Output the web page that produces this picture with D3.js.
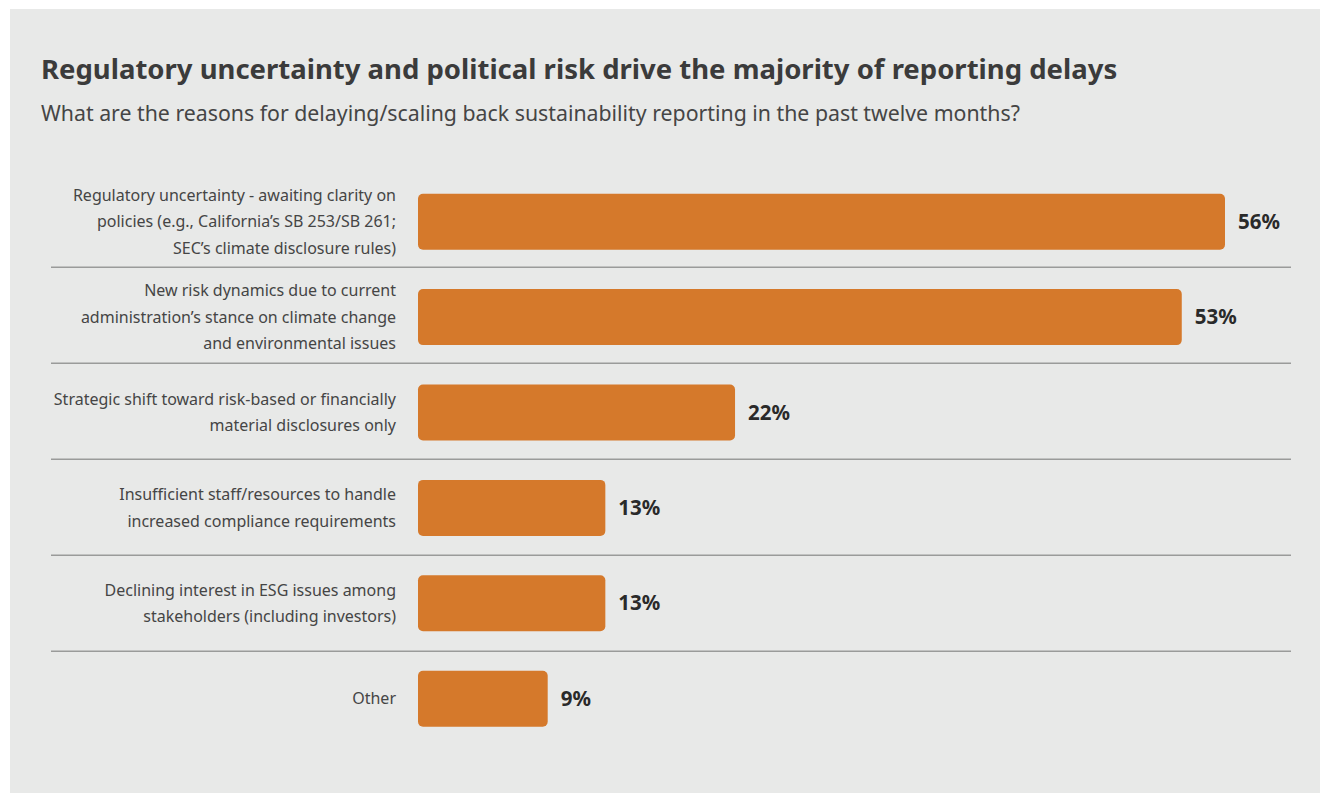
<!DOCTYPE html>
<html>
<head>
<meta charset="utf-8">
<script src="https://cdn.jsdelivr.net/npm/d3@7"></script>
<style>
  html, body { margin: 0; padding: 0; background: #ffffff; }
  svg { display: block; }
</style>
</head>
<body>
<svg id="chart" width="1321" height="793"></svg>
<script>
// Survey answers, one row per reason (line breaks as printed)
const categories = [
  "Regulatory uncertainty - awaiting clarity on\npolicies (e.g., California’s SB 253/SB 261;\nSEC’s climate disclosure rules)",
  "New risk dynamics due to current\nadministration’s stance on climate change\nand environmental issues",
  "Strategic shift toward risk-based or financially\nmaterial disclosures only",
  "Insufficient staff/resources to handle\nincreased compliance requirements",
  "Declining interest in ESG issues among\nstakeholders (including investors)",
  "Other"
];
const shares = [56, 53, 22, 13, 13, 9];

const title = "Regulatory uncertainty and political risk drive the majority of reporting delays";
const subtitle = "What are the reasons for delaying/scaling back sustainability reporting in the past twelve months?";

const FONT = "'Noto Sans', 'Open Sans', sans-serif";
const svg = d3.select("#chart");

svg.append("rect")
  .attr("x", 10).attr("y", 9)
  .attr("width", 1310).attr("height", 784)
  .attr("fill", "#e8e9e8");

svg.append("text")
  .attr("x", 41).attr("y", 79)
  .attr("font-family", FONT)
  .attr("font-size", 27.5)
  .attr("font-weight", 700)
  .attr("fill", "#3b3b3b")
  .text(title);

svg.append("text")
  .attr("x", 41).attr("y", 121)
  .attr("font-family", FONT)
  .attr("font-size", 21.3)
  .attr("fill", "#454545")
  .text(subtitle);

const rows = categories.map((c, i) => ({ label: c, value: shares[i], i }));

const x = d3.scaleLinear().domain([0, 56]).range([418, 1225]);
const y = d3.scaleBand()
  .domain(rows.map(d => d.i))
  .range([174, 174 + 6 * 95.4])
  .paddingInner(0.413)
  .paddingOuter(0.2065);

// separators under every row except the last
svg.append("g").selectAll("line")
  .data(rows.slice(0, -1))
  .join("line")
  .attr("x1", 51).attr("x2", 1291)
  .attr("y1", (d, k) => y(d.i) + y.bandwidth() + 17.5 + k * 0.6)
  .attr("y2", (d, k) => y(d.i) + y.bandwidth() + 17.5 + k * 0.6)
  .attr("stroke", "#9a9b9a")
  .attr("stroke-width", 1.5);

svg.append("g").selectAll("rect")
  .data(rows)
  .join("rect")
  .attr("x", x(0))
  .attr("y", d => y(d.i))
  .attr("width", d => x(d.value) - x(0))
  .attr("height", y.bandwidth())
  .attr("rx", 5).attr("ry", 5)
  .attr("fill", "#d5792b");

svg.append("g").selectAll("text")
  .data(rows)
  .join("text")
  .attr("x", d => x(d.value) + 13)
  .attr("y", d => y(d.i) + y.bandwidth() / 2)
  .attr("dy", "0.35em")
  .attr("font-family", FONT)
  .attr("font-size", 20.5)
  .attr("font-weight", 700)
  .attr("fill", "#2a2a2a")
  .text(d => d.value + "%");

const lineH = 26.5;
const labels = svg.append("g").selectAll("text")
  .data(rows)
  .join("text")
  .attr("text-anchor", "end")
  .attr("font-family", FONT)
  .attr("font-size", 16)
  .attr("fill", "#454545");

labels.each(function (d) {
  const lines = d.label.split("\n");
  const cy = y(d.i) + y.bandwidth() / 2;
  const top = cy - (lines.length - 1) * lineH / 2;
  d3.select(this).selectAll("tspan")
    .data(lines)
    .join("tspan")
    .attr("x", 396)
    .attr("y", (l, k) => top + k * lineH)
    .attr("dy", "0.35em")
    .text(l => l);
});
</script>
</body>
</html>
